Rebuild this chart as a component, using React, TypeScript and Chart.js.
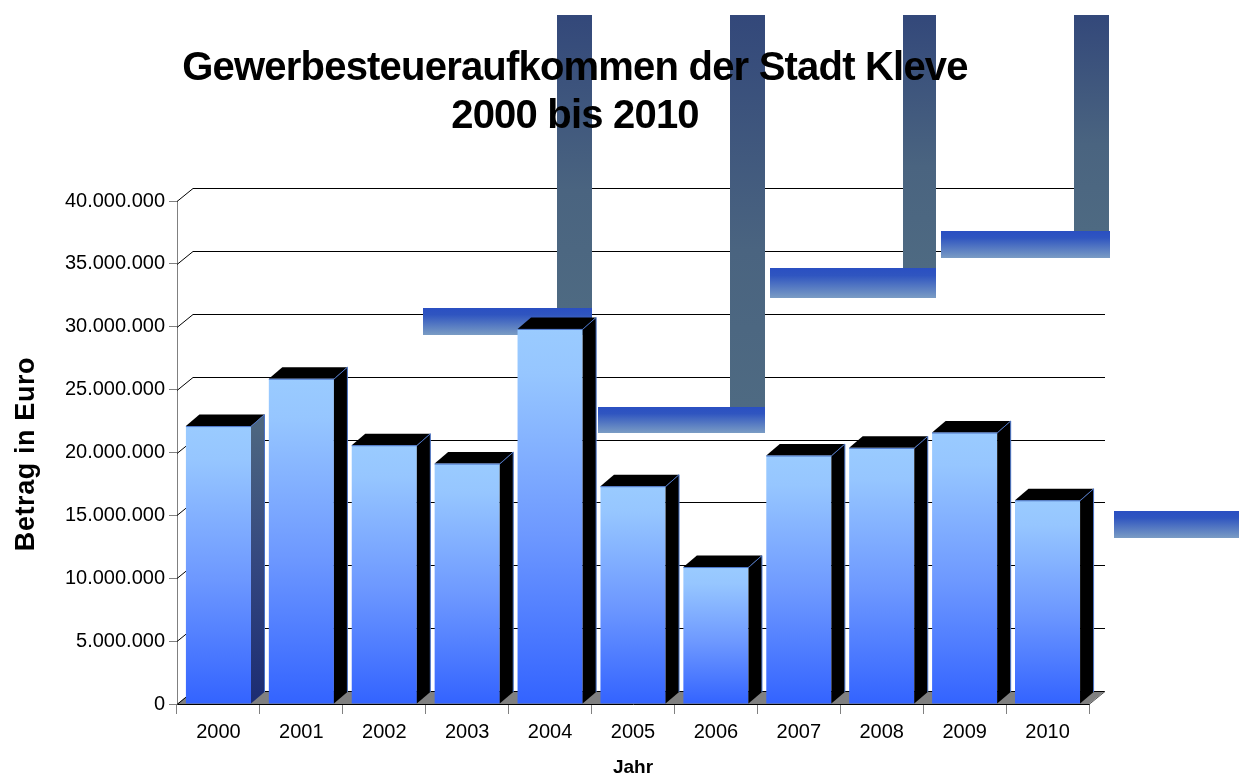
import React, { useEffect, useRef } from 'react';
import { Chart, registerables } from 'chart.js';

Chart.register(...registerables);

// ---- data ----
const years = ['2000', '2001', '2002', '2003', '2004', '2005', '2006', '2007', '2008', '2009', '2010'];
const revenue = [22100000, 25870000, 20580000, 19120000, 29830000, 17320000, 10890000, 19760000, 20370000, 21590000, 16200000];
const yMin = 0;
const yMax = 40000000;
const yStep = 5000000;
const titleLines = ['Gewerbesteueraufkommen der Stadt Kleve', '2000 bis 2010'];
const yAxisTitle = 'Betrag in Euro';
const xAxisTitle = 'Jahr';

// ---- styling ----
const FONT = '"Liberation Sans", Arial, Helvetica, sans-serif';
const WALL = { dx: 16, dy: -13 };
const BAR = { dx: 13.5, dy: -11.5 };
// decorative rendering strips seen in the original picture (not data)
const STRIPS_V = [
  [557, 15, 35, 293],
  [730, 15, 35, 392],
  [903, 15, 33, 253],
  [1074, 15, 35, 216],
];
const STRIPS_H = [
  [423, 308, 169, 27],
  [598, 407, 167, 26],
  [770, 268, 166, 30],
  [941, 231, 169, 27],
  [1114, 511, 125, 27],
];

function formatDe(v: number): string {
  return String(Math.round(v)).replace(/\B(?=(\d{3})+(?!\d))/g, '.');
}

const threeD = {
  id: 'threeD',
  beforeDatasetsDraw(chart: any) {
    const { ctx, chartArea: a, scales } = chart;
    const y = scales.y;
    ctx.save();
    // floor
    ctx.fillStyle = '#808080';
    ctx.beginPath();
    ctx.moveTo(a.left, a.bottom);
    ctx.lineTo(a.right, a.bottom);
    ctx.lineTo(a.right + WALL.dx, a.bottom + WALL.dy);
    ctx.lineTo(a.left + WALL.dx, a.bottom + WALL.dy);
    ctx.closePath();
    ctx.fill();
    // back wall grid lines
    ctx.strokeStyle = '#000';
    ctx.lineWidth = 1;
    y.ticks.forEach((t: any) => {
      const py = Math.round(y.getPixelForValue(t.value)) + 0.5;
      ctx.beginPath();
      ctx.moveTo(a.left, py);
      ctx.lineTo(a.left + WALL.dx, py + WALL.dy);
      ctx.lineTo(a.right + WALL.dx, py + WALL.dy);
      ctx.stroke();
    });
    // floor right edge
    ctx.strokeStyle = '#555';
    ctx.beginPath();
    ctx.moveTo(a.right, a.bottom + 0.5);
    ctx.lineTo(a.right + WALL.dx, a.bottom + WALL.dy + 0.5);
    ctx.stroke();
    // strips
    STRIPS_V.forEach(([x, yy, w, h]) => {
      const g = ctx.createLinearGradient(0, yy, 0, yy + h);
      g.addColorStop(0, '#33487a');
      g.addColorStop(0.6, '#4a6480');
      g.addColorStop(1, '#4e6a82');
      ctx.fillStyle = g;
      ctx.fillRect(x, yy, w, h);
    });
    STRIPS_H.forEach(([x, yy, w, h]) => {
      const g = ctx.createLinearGradient(0, yy, 0, yy + h);
      g.addColorStop(0, '#2a4fc2');
      g.addColorStop(0.25, '#2f55c0');
      g.addColorStop(1, '#7a9cc4');
      ctx.fillStyle = g;
      ctx.fillRect(x, yy, w, h);
    });
    ctx.restore();
  },
  afterDatasetsDraw(chart: any) {
    const { ctx } = chart;
    const meta = chart.getDatasetMeta(0);
    ctx.save();
    meta.data.forEach((bar: any, i: number) => {
      const { x, y, base, width } = bar.getProps(['x', 'y', 'base', 'width'], true);
      const l = x - width / 2;
      const r = x + width / 2;
      // side face
      ctx.beginPath();
      ctx.moveTo(r, y);
      ctx.lineTo(r + BAR.dx, y + BAR.dy);
      ctx.lineTo(r + BAR.dx, base + BAR.dy);
      ctx.lineTo(r, base);
      ctx.closePath();
      if (i === 0) {
        const g = ctx.createLinearGradient(0, y, 0, base);
        g.addColorStop(0, '#4d6680');
        g.addColorStop(0.5, '#34477f');
        g.addColorStop(1, '#1c2c72');
        ctx.fillStyle = g;
      } else {
        ctx.fillStyle = '#000';
      }
      ctx.fill();
      // top face
      ctx.beginPath();
      ctx.moveTo(l, y);
      ctx.lineTo(l + BAR.dx, y + BAR.dy);
      ctx.lineTo(r + BAR.dx, y + BAR.dy);
      ctx.lineTo(r, y);
      ctx.closePath();
      ctx.fillStyle = '#000';
      ctx.fill();
      // thin blue edges
      ctx.strokeStyle = '#4a74c8';
      ctx.lineWidth = 1;
      ctx.beginPath();
      ctx.moveTo(l, y + 0.5);
      ctx.lineTo(r, y + 0.5);
      ctx.lineTo(r + BAR.dx, y + BAR.dy);
      ctx.lineTo(r + BAR.dx, base + BAR.dy);
      ctx.stroke();
    });
    ctx.restore();
  },
  afterDraw(chart: any) {
    const { ctx, chartArea: a } = chart;
    ctx.save();
    ctx.fillStyle = '#000';
    // title
    ctx.font = `bold 40px ${FONT}`;
    ctx.textAlign = 'center';
    ctx.textBaseline = 'alphabetic';
    try { (ctx as any).letterSpacing = '-0.8px'; } catch (e) {}
    ctx.fillText(titleLines[0], 575, 79.5);
    ctx.fillText(titleLines[1], 575, 128.3);
    // y axis title
    try { (ctx as any).letterSpacing = '0.6px'; } catch (e) {}
    ctx.font = `bold 27px ${FONT}`;
    ctx.save();
    ctx.translate(33.5, 454);
    ctx.rotate(-Math.PI / 2);
    ctx.fillText(yAxisTitle, 0, 0);
    ctx.restore();
    // x axis title
    try { (ctx as any).letterSpacing = '0px'; } catch (e) {}
    ctx.font = `bold 19px ${FONT}`;
    ctx.fillText(xAxisTitle, (a.left + a.right) / 2, 772.7);
    ctx.restore();
  },
};

export default function App() {
  const ref = useRef<HTMLCanvasElement>(null);
  useEffect(() => {
    const canvas = ref.current!;
    const chart = new Chart(canvas, {
      type: 'bar',
      data: {
        labels: years,
        datasets: [
          {
            data: revenue,
            borderWidth: 0,
            barPercentage: 0.785,
            categoryPercentage: 1,
            backgroundColor: (c: any) => {
              const ch = c.chart;
              const ca = ch.chartArea;
              if (!ca || !ch.scales.y || typeof c.raw !== 'number') return '#6699ff';
              const top = ch.scales.y.getPixelForValue(c.raw);
              const g = ch.ctx.createLinearGradient(0, top, 0, ca.bottom);
              g.addColorStop(0, '#9acbff');
              g.addColorStop(0.12, '#96c6ff');
              g.addColorStop(0.55, '#6d98ff');
              g.addColorStop(1, '#3363ff');
              return g;
            },
          },
        ],
      },
      options: {
        responsive: false,
        animation: false,
        devicePixelRatio: 1,
        layout: { padding: { left: 0, top: 201, right: 150, bottom: 0 } },
        plugins: {
          legend: { display: false },
          tooltip: { enabled: false },
          title: { display: false },
        },
        scales: {
          x: {
            offset: true,
            grid: {
              offset: true,
              drawOnChartArea: false,
              drawTicks: true,
              tickLength: 10,
              color: '#808080',
            },
            border: { display: true, color: '#000', width: 1 },
            ticks: {
              color: '#000',
              font: { family: FONT, size: 20 },
              padding: 6,
              maxRotation: 0,
              autoSkip: false,
            },
            afterFit: (s: any) => {
              s.height = 71;
            },
          },
          y: {
            min: yMin,
            max: yMax,
            grid: {
              drawOnChartArea: false,
              drawTicks: true,
              tickLength: 8,
              color: '#808080',
            },
            border: { display: true, color: '#808080', width: 1 },
            ticks: {
              stepSize: yStep,
              color: '#000',
              font: { family: FONT, size: 20 },
              padding: 4,
              callback: (v: any) => formatDe(Number(v)),
            },
            afterFit: (s: any) => {
              s.width = 177;
            },
          },
        },
      },
      plugins: [threeD],
    } as any);
    return () => chart.destroy();
  }, []);
  return (
    <div style={{ position: 'absolute', left: 0, top: 0, width: 1239, height: 775, background: '#fff' }}>
      <canvas ref={ref} width={1239} height={775} style={{ display: 'block', width: 1239, height: 775 }} />
    </div>
  );
}
